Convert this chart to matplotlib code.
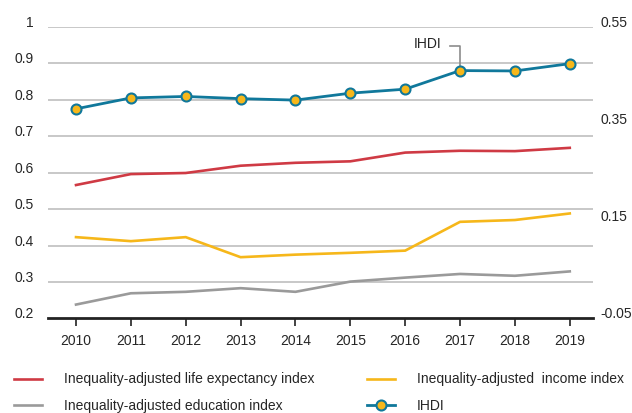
import matplotlib
matplotlib.use("Agg")
import matplotlib.pyplot as plt
import numpy as np

plt.rcParams['font.family'] = ['Liberation Sans', 'DejaVu Sans']

# data
years = ["2010", "2011", "2012", "2013", "2014", "2015", "2016", "2017", "2018", "2019"]
life = [0.566, 0.596, 0.599, 0.619, 0.627, 0.631, 0.655, 0.660, 0.659, 0.668]
education = [0.238, 0.269, 0.273, 0.283, 0.273, 0.301, 0.312, 0.322, 0.317, 0.329]
income = [0.423, 0.412, 0.423, 0.368, 0.375, 0.380, 0.386, 0.465, 0.470, 0.488]
ihdi = [0.775, 0.805, 0.809, 0.803, 0.799, 0.818, 0.829, 0.880, 0.879, 0.899]

left_ticks = [0.2, 0.3, 0.4, 0.5, 0.6, 0.7, 0.8, 0.9, 1.0]
left_labels = ["0.2", "0.3", "0.4", "0.5", "0.6", "0.7", "0.8", "0.9", "1"]
right_ticks = [-0.05, 0.15, 0.35, 0.55]
right_labels = ["-0.05", "0.15", "0.35", "0.55"]

RED = "#cf3a44"
GRAY = "#9a9a9a"
YELLOW = "#f6b71a"
TEAL = "#10789b"
TXT = "#262626"
FS = 10

fig = plt.figure(figsize=(6.32, 4.13), dpi=100)
ax = fig.add_axes([0.076, 0.229, 0.862, 0.706])
x = np.arange(len(years))

ax.plot(x, life, color=RED, lw=1.9, label="Inequality-adjusted life expectancy index")
ax.plot(x, education, color=GRAY, lw=1.9, label="Inequality-adjusted education index")
ax.plot(x, income, color=YELLOW, lw=1.9, label="Inequality-adjusted  income index")
ax.plot(x, ihdi, color=TEAL, lw=2.0, marker="o", markersize=7.2,
        markerfacecolor=YELLOW, markeredgecolor=TEAL, markeredgewidth=1.5,
        label="IHDI", zorder=5)

ax.set_xlim(-0.51, 9.42)
ax.set_ylim(0.2, 1.0)
ax.set_xticks(x)
ax.set_xticklabels(years, fontsize=FS, color=TXT)
ax.set_yticks(left_ticks)
ax.set_yticklabels(left_labels, fontsize=FS, color=TXT)
for lab in ax.get_yticklabels():
    lab.set_verticalalignment("baseline")
ax.tick_params(axis="y", length=0, pad=10.5)
ax.tick_params(axis="x", length=5.8, width=1.2, color="#222222", pad=5.5)

for v in left_ticks[1:]:
    ax.axhline(v, color="#c8c8c8", lw=1.4, zorder=0)

for s in ["top", "left", "right"]:
    ax.spines[s].set_visible(False)
ax.spines["bottom"].set_linewidth(2)
ax.spines["bottom"].set_color("#222222")

ax2 = ax.twinx()
ax2.set_ylim(-0.05, 0.55)
ax2.set_yticks(right_ticks)
ax2.set_yticklabels(right_labels, fontsize=FS, color=TXT)
for lab in ax2.get_yticklabels():
    lab.set_verticalalignment("baseline")
ax2.tick_params(axis="y", length=0, pad=5.5)
for s in ax2.spines.values():
    s.set_visible(False)

# IHDI callout
ax.plot([6.82, 7.0, 7.0], [0.947, 0.947, 0.892], color="#8c8c8c", lw=1.2, zorder=4)
ax.text(6.66, 0.953, "IHDI", ha="right", va="center", fontsize=FS, color=TXT)

handles, labels = ax.get_legend_handles_labels()
leg = fig.legend(handles, labels, ncol=2, loc="lower left",
                 bbox_to_anchor=(0.003, -0.03), frameon=False, fontsize=FS,
                 handlelength=2.0, handletextpad=1.6, columnspacing=3.75,
                 labelspacing=0.9)
for t in leg.get_texts():
    t.set_color(TXT)

fig.savefig("out.png", dpi=100)
